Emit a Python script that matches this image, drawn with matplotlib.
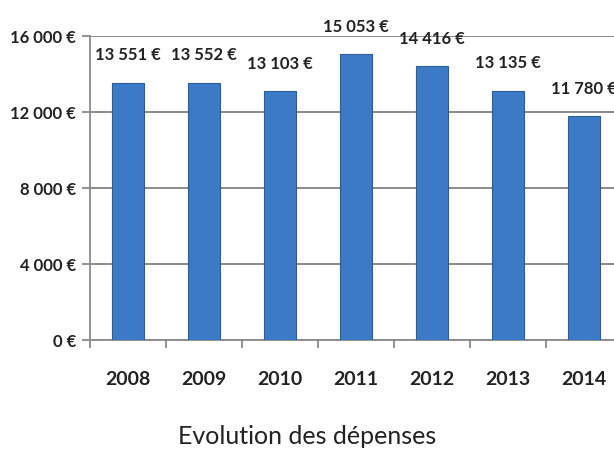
import numpy as np
import matplotlib.pyplot as plt

# Data
years = ['2008', '2009', '2010', '2011', '2012', '2013', '2014']
depenses = [13551, 13552, 13103, 15053, 14416, 13135, 11780]

plt.rcParams['font.family'] = ['Lato', 'DejaVu Sans']


def euro(v):
    return f"{v:,.0f} €".replace(',', ' ')


fig = plt.figure(figsize=(6.14, 4.57), dpi=100)
ax = fig.add_axes([0.1466, 0.256, 0.866, 0.665])

x = np.arange(len(years))
ax.bar(x, depenses, width=0.42, color='#3b7ac6', edgecolor='#2b5d99',
       linewidth=0.8, zorder=3)

for xi, v in zip(x, depenses):
    ax.annotate(euro(v), (xi, v), xytext=(0, 14), textcoords='offset points',
                ha='center', va='bottom', fontsize=12, fontweight='bold',
                color='#222222')

ax.set_xlim(-0.5, len(years) - 0.5)
ax.set_ylim(0, 16000)
ax.set_yticks([0, 4000, 8000, 12000, 16000])
ax.set_yticklabels([euro(v) for v in [0, 4000, 8000, 12000, 16000]],
                   fontsize=12, fontweight='bold', color='#222222')
ax.yaxis.grid(True, color='#8a8a8a', linewidth=1.4, zorder=0)

ax.set_xticks(x)
ax.set_xticklabels(years, fontsize=14, fontweight='bold', color='#222222')
ax.set_xticks(np.arange(len(years) + 1) - 0.5, minor=True)
ax.tick_params(axis='x', which='major', length=0, pad=22)
ax.tick_params(axis='x', which='minor', length=6, width=1.3, color='#8a8a8a')
ax.tick_params(axis='y', length=6, width=1.3, color='#8a8a8a', pad=4)

for s in ['top', 'right']:
    ax.spines[s].set_visible(False)
for s in ['left', 'bottom']:
    ax.spines[s].set_color('#8a8a8a')
    ax.spines[s].set_linewidth(1.3)

fig.text(0.5, 0.045, 'Evolution des dépenses', ha='center', va='center',
         fontsize=18, color='#222222')

fig.savefig('out.png', dpi=100, facecolor='white')
